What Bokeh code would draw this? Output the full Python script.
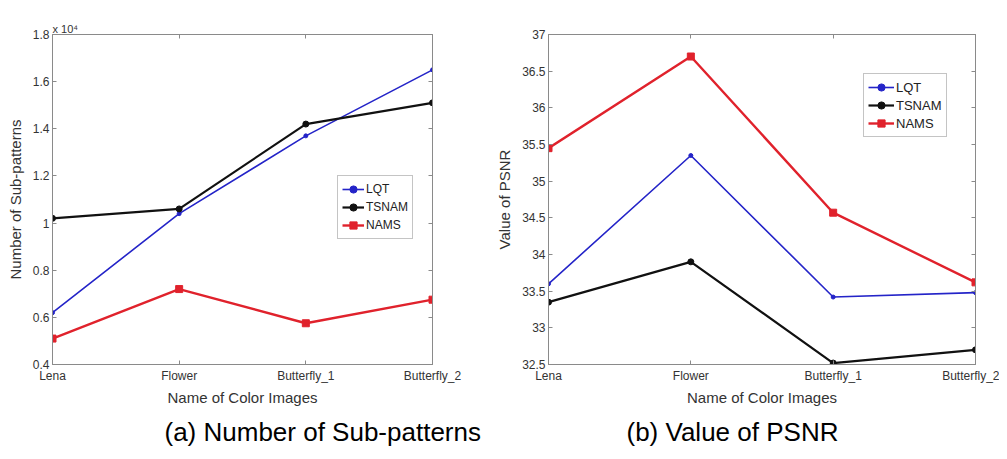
from bokeh.plotting import figure
from bokeh.layouts import row
from bokeh.models import (Range1d, FixedTicker, LinearAxis, CustomJSTickFormatter,
                          Legend, LegendItem, Title)
from bokeh.embed import file_html
from bokeh.resources import INLINE

# ---- data ----
images = ["Lena", "Flower", "Butterfly_1", "Butterfly_2"]
methods = ["LQT", "TSNAM", "NAMS"]

sub_lqt = [0.62, 1.04, 1.37, 1.65]      # x 10^4
sub_tsnam = [1.02, 1.06, 1.42, 1.51]
sub_nams = [0.51, 0.72, 0.575, 0.675]

psnr_lqt = [33.6, 35.35, 33.42, 33.48]
psnr_tsnam = [33.35, 33.9, 32.52, 32.7]
psnr_nams = [35.45, 36.7, 34.57, 33.62]

sub_yticks = [0.4, 0.6, 0.8, 1.0, 1.2, 1.4, 1.6, 1.8]
psnr_yticks = [32.5, 33, 33.5, 34, 34.5, 35, 35.5, 36, 36.5, 37]

FONT = "Liberation Sans"
COLORS = {"LQT": "#2424c8", "TSNAM": "#111111", "NAMS": "#e0222c"}
MARK = {"LQT": ("circle", 4, 1.6), "TSNAM": ("circle", 6, 2.2), "NAMS": ("square", 7, 2.4)}


def mirror_axis(ticks):
    return LinearAxis(ticker=FixedTicker(ticks=ticks),
                      formatter=CustomJSTickFormatter(code="return '';"),
                      major_label_standoff=0,
                      axis_line_color="#8a8a8a", major_tick_line_color="#8a8a8a",
                      major_tick_in=4, major_tick_out=0, minor_tick_line_color=None)


def make_panel(series, yticks, ylabel, caption, cap_offset, width, height,
               borders, legend_loc, legend_font, glyph_w, exponent=None):
    xs = list(range(1, len(images) + 1))
    p = figure(width=width, height=height, output_backend="svg", toolbar_location=None,
               x_range=Range1d(xs[0], xs[-1]), y_range=Range1d(yticks[0], yticks[-1]),
               min_border_left=borders[0], min_border_right=borders[1],
               min_border_top=borders[2], min_border_bottom=borders[3],
               background_fill_color="white", border_fill_color="white")
    p.grid.visible = False
    p.outline_line_color = "#8a8a8a"
    fmt = CustomJSTickFormatter(code="return String(Math.round(tick*100)/100);")

    p.xaxis.ticker = FixedTicker(ticks=xs)
    p.xaxis.major_label_overrides = {x: name for x, name in zip(xs, images)}
    p.yaxis.ticker = FixedTicker(ticks=yticks)
    p.yaxis.formatter = fmt
    for ax in (p.xaxis[0], p.yaxis[0]):
        ax.axis_line_color = "#8a8a8a"
        ax.major_tick_line_color = "#8a8a8a"
        ax.major_tick_in = 4
        ax.major_tick_out = 0
        ax.minor_tick_line_color = None
        ax.major_label_text_font = FONT
        ax.major_label_text_font_size = "12px"
        ax.major_label_text_color = "#333333"
        ax.axis_label_text_font = FONT
        ax.axis_label_text_font_size = "15px"
        ax.axis_label_text_font_style = "normal"
        ax.axis_label_text_color = "#333333"
    p.xaxis.major_label_standoff = 4
    p.xaxis.axis_label_standoff = 3
    p.yaxis.major_label_standoff = 3
    p.yaxis.axis_label_standoff = 6
    p.xaxis.axis_label = "Name of Color Images"
    p.yaxis.axis_label = ylabel

    # mirrored box ticks (no labels)
    p.add_layout(mirror_axis(yticks), "right")
    p.add_layout(mirror_axis(xs), "above")

    items = []
    for name, vals in zip(methods, series):
        c = COLORS[name]
        mk, sz, lw = MARK[name]
        ln = p.line(xs, vals, line_color=c, line_width=lw)
        sc = p.scatter(xs, vals, marker=mk, size=sz, fill_color=c, line_color=c)
        items.append(LegendItem(label=name, renderers=[ln, sc]))
    leg = Legend(items=items, location=legend_loc, label_text_font=FONT,
                 label_text_font_size=legend_font, label_text_color="#222222",
                 glyph_width=glyph_w, glyph_height=18, label_height=18,
                 label_standoff=2, padding=4, spacing=0, margin=0,
                 border_line_color="#8a8a8a", border_line_width=1,
                 background_fill_color="white", background_fill_alpha=1)
    p.add_layout(leg, "center")

    if exponent:
        p.add_layout(Title(text=exponent, align="left", offset=0, standoff=0,
                           text_font=FONT, text_font_size="11px", text_font_style="normal",
                           text_color="#333333"), "above")

    cap = Title(text=caption, align="left", offset=cap_offset, standoff=13,
                text_font=FONT, text_font_size="26px", text_font_style="normal",
                text_color="#000000")
    p.add_layout(cap, "below")
    return p


p1 = make_panel([sub_lqt, sub_tsnam, sub_nams], sub_yticks, "Number of Sub-patterns",
                "(a) Number of Sub-patterns", 112, 490, 458, (52, 58, 30, 94),
                (285, 125), "12px", 22, exponent="x 10\u2074")
p2 = make_panel([psnr_lqt, psnr_tsnam, psnr_nams], psnr_yticks, "Value of PSNR",
                "(b) Value of PSNR", 78, 509, 458, (58, 24, 34, 94),
                (315, 227), "13px", 26)

layout = row(p1, p2)
open("out.html", "w").write(file_html(layout, INLINE))
